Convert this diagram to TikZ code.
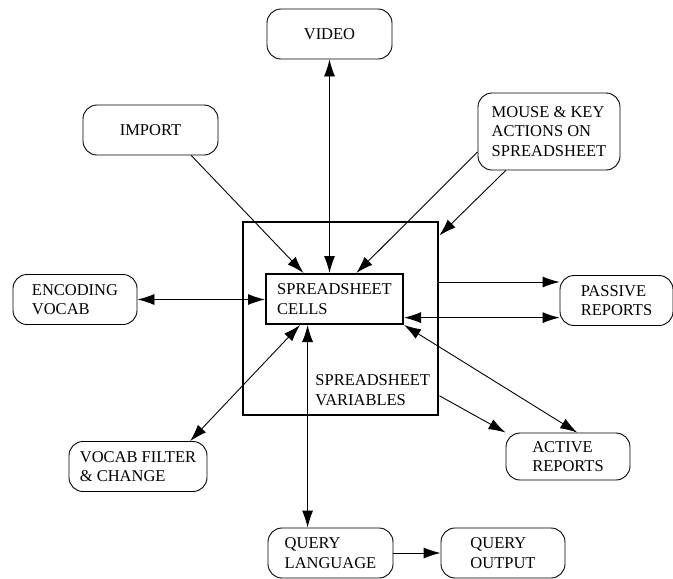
\documentclass[tikz,border=0pt]{standalone}
\usepackage{fontspec}
\setmainfont{Liberation Serif}
\usetikzlibrary{arrows.meta,positioning}
\tikzset{rbox/.style={draw,rounded corners=14pt,line width=0.9pt,align=left,inner sep=0pt,minimum height=50pt,font=\fontsize{16.5}{19.5}\selectfont}}
\tikzset{sbox/.style={draw,align=left,inner sep=0pt,font=\fontsize{16.5}{19.5}\selectfont}}

\begin{document}
\begin{tikzpicture}[x=1pt,y=-1pt,>={Latex[length=17pt,width=11pt]},line width=0.9pt]
\useasboundingbox (0,0) rectangle (673,579);
% outer box and cells
 \node[sbox,line width=2.8pt,minimum width=195pt,minimum height=193pt] (vars) at (340.5,318.5) {};
 \node[sbox,line width=2pt,minimum width=137pt,minimum height=50pt] (cells) at (334.5,299) {SPREADSHEET\\CELLS};
 \node[sbox,draw=none,anchor=west] (varslbl) at (315,390) {SPREADSHEET\\VARIABLES};
% outside boxes
 \node[rbox,minimum width=125pt] (video) at (329.5,34) {VIDEO};
 \node[rbox,minimum width=135pt] (import) at (150.5,130) {IMPORT};
 \node[rbox,minimum width=142pt,minimum height=77pt] (mouse) at (549,131.5) {MOUSE \& KEY\\ACTIONS ON\\SPREADSHEET};
 \node[rbox,minimum width=124pt] (enc) at (75,299.5) {ENCODING\\VOCAB};
 \node[rbox,minimum width=113pt] (passive) at (616.5,300.5) {PASSIVE\\REPORTS};
 \node[rbox,minimum width=138pt] (vocab) at (138,466.5) {VOCAB FILTER\\\& CHANGE};
 \node[rbox,minimum width=124pt,minimum height=47pt] (active) at (568,456.5) {ACTIVE\\REPORTS};
 \node[rbox,minimum width=125pt] (query) at (330.5,553) {QUERY\\LANGUAGE};
 \node[rbox,minimum width=124pt] (output) at (503,553) {QUERY\\OUTPUT};
% connectors
 \draw[->] (import.-32) -- (cells.140);
 \draw[<->] (video.south) -- (video.south |- cells.north);
 \draw[->] (mouse.196) -- (cells.50);
 \draw[->] (mouse.222) -- (vars.40);
 \draw[<->] (enc.east) -- (enc.east -| cells.west);
 \draw[->] (vars.east |- passive.162) -- (passive.162);
 \draw[<->] (cells.-15) -- (cells.-15 -| passive.west);
 \draw[<->] (cells.south east) -- (active.69);
 \draw[->] (vars.-38) -- (active.north west);
 \draw[<->] (cells.217) -- (vocab.26);
 \draw[<->] (query.132 |- cells.south) -- (query.132);
 \draw[->] (query.east) -- (output.west);

\end{tikzpicture}
\end{document}
